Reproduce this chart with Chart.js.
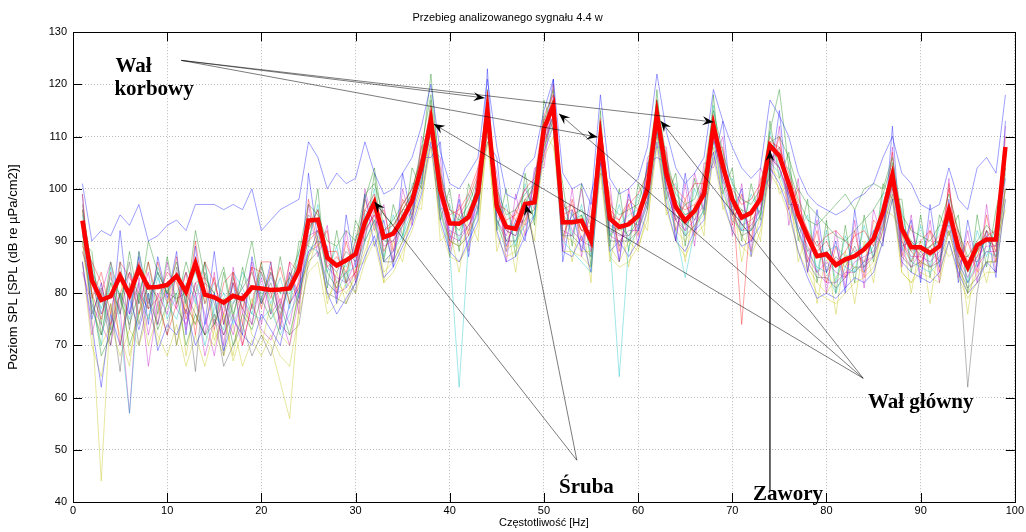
<!DOCTYPE html>
<html lang="pl">
<head>
<meta charset="utf-8">
<title>Przebieg analizowanego sygnału 4.4 w</title>
<script src="https://cdn.jsdelivr.net/npm/chart.js@4.4.1/dist/chart.umd.min.js"></script>
<style>
    html, body { margin: 0; padding: 0; background: #fff; }
    canvas { display: block; }
</style>
</head>
<body>
<canvas id="wykres" width="1026" height="532"></canvas>
<script>
// Częstotliwości [Hz]
const czestotliwosci = [1,2,3,4,5,6,7,8,9,10,11,12,13,14,15,16,17,18,19,20,
    21,22,23,24,25,26,27,28,29,30,31,32,33,34,35,36,37,38,39,40,
    41,42,43,44,45,46,47,48,49,50,51,52,53,54,55,56,57,58,59,60,
    61,62,63,64,65,66,67,68,69,70,71,72,73,74,75,76,77,78,79,80,
    81,82,83,84,85,86,87,88,89,90,91,92,93,94,95,96,97,98,99];

// średni poziom (gruba czerwona linia)
const srednia = [93.9,82.5,78.7,79.4,83.3,79.7,84.6,81.1,81.2,81.6,
    83.3,80.3,85.7,79.7,79.2,78.2,79.5,78.9,81.1,80.9,
    80.6,80.7,80.9,84.5,93.9,94.1,86.8,85.3,86.3,87.5,
    93.6,97.4,90.7,91.4,94.2,97.7,104.1,113.1,99.7,93.4,
    93.3,94.6,99.3,115.0,96.6,92.7,92.3,97.1,97.4,111.5,
    115.9,93.6,93.6,93.9,90.1,109.6,94.3,92.7,93.2,94.8,
    100.0,114.3,102.9,96.5,93.9,95.8,99.0,112.1,104.3,98.0,
    94.5,95.4,98.1,108.3,106.3,101.0,95.0,90.8,87.1,87.5,
    85.4,86.5,87.1,88.4,90.4,95.5,102.6,92.3,88.8,88.8,
    87.7,89.0,95.8,88.7,85.0,89.2,90.3,90.3,108.0];

// poszczególne pomiary (cienkie linie)
const pomiar01 = [101,90,92,91,95,93,97,90,91,93,94,92,97,97,97,96,97,96,100,92,
    94,96,97,98,109,106,100,103,101,102,109,103,99,100,103,106,112,120,107,101,
    100,103,106,121,108,99,98,104,106,115,121,103,100,101,97,118,102,99,100,102,
    108,122,111,104,101,103,106,119,113,108,104,102,104,117,114,110,103,99,97,96,
    95,96,98,99,101,106,110,103,101,97,96,97,104,98,96,104,106,103,118];
const pomiar02 = [96,85,72,82,76,88,78,90,84,80,86,78,92,83,80,85,76,82,90,79,
    84,80,83,88,97,95,90,89,92,90,99,101,95,93,96,99,108,118,103,96,
    94,97,102,117,100,95,96,99,101,113,119,97,95,96,93,112,97,95,96,97,
    104,117,106,99,97,98,103,115,107,101,98,97,100,111,119,104,98,94,93,95,
    97,99,96,100,101,100,106,95,92,91,90,93,99,92,87,90,93,91,105];
const pomiar03 = [99,80,75,84,70,81,86,77,79,84,82,76,90,78,83,74,82,77,85,84,
    79,85,78,82,92,96,85,87,84,90,96,99,88,92,97,100,106,115,101,95,
    96,99,104,116,99,94,95,100,102,114,118,96,97,92,93,113,96,94,97,99,
    103,116,104,100,98,101,101,114,103,100,97,98,101,110,107,102,96,92,88,90,
    86,88,91,92,89,97,104,90,86,90,92,89,100,91,85,87,92,88,106];
const pomiar04 = [92,78,70,85,74,57,80,75,83,78,75,82,79,70,77,80,74,79,76,75,
    77,72,76,80,89,88,82,80,84,85,90,94,86,88,91,96,102,111,96,88,
    62,90,96,112,94,88,90,93,95,108,113,90,88,86,84,106,90,64,89,92,
    97,111,99,92,83,92,96,109,100,94,92,92,95,105,103,98,92,88,85,84,
    80,85,84,86,89,93,101,89,86,85,84,86,94,86,82,86,88,87,104];
const pomiar05 = [88,82,76,80,77,57,83,72,80,76,84,73,82,76,68,78,72,80,74,83,
    76,79,74,83,91,92,85,83,82,86,92,95,89,90,95,97,103,112,98,92,
    91,93,97,113,95,92,91,95,99,110,114,92,91,100,88,107,92,91,91,93,
    98,113,101,95,92,94,97,110,102,98,93,94,96,107,104,99,93,89,84,86,
    84,83,86,87,88,94,100,90,87,87,86,88,94,87,83,87,89,89,106];
const pomiar06 = [90,75,44,78,72,66,80,70,76,82,70,78,74,80,71,76,67,73,79,72,
    70,63,56,78,87,90,79,82,80,83,88,93,84,86,90,94,100,110,95,90,
    89,92,95,111,93,89,89,94,96,108,112,91,90,88,88,104,89,86,90,88,
    96,110,98,92,90,93,95,108,99,95,91,88,95,104,102,97,91,85,82,80,
    83,86,85,84,86,92,100,84,82,86,85,83,92,85,80,84,86,86,100];
const pomiar07 = [97,84,80,70,86,73,88,78,84,80,79,80,65,84,78,72,78,81,84,78,
    82,76,82,86,95,93,86,84,88,86,94,98,90,90,93,98,104,114,99,93,
    93,94,98,115,96,92,91,97,98,111,116,93,94,94,90,110,93,92,93,95,
    100,114,103,96,93,95,99,112,104,97,94,95,98,108,106,101,95,90,87,87,
    85,86,87,88,90,95,102,91,88,89,87,89,95,88,62,80,90,89,100];
const pomiar08 = [86,74,62,76,70,79,73,80,69,74,72,77,70,74,80,69,75,72,70,76,
    73,70,78,81,88,90,80,76,79,82,87,91,83,85,89,93,99,109,94,88,
    86,90,94,123,92,86,87,91,95,107,112,88,87,91,84,105,88,90,87,90,
    96,109,97,90,88,92,94,107,98,92,89,90,93,104,101,96,88,83,79,80,
    79,81,83,82,84,90,98,86,84,83,82,84,90,84,80,82,86,84,98];
const pomiar09 = [93,80,68,72,80,70,76,82,73,78,80,70,76,72,74,79,70,76,73,79,
    75,78,72,80,87,92,84,81,86,88,98,104,92,94,97,100,106,122,101,94,
    92,96,100,116,98,93,92,97,101,112,117,95,93,95,89,108,91,93,91,94,
    99,116,105,98,95,96,100,113,106,98,96,95,99,109,110,106,100,97,95,93,
    91,90,92,94,96,99,105,93,90,88,89,90,96,89,84,88,92,90,103];
const pomiar10 = [89,86,82,74,80,84,76,86,78,72,78,84,72,86,82,76,84,70,78,86,
    86,74,86,84,90,92,88,88,82,84,92,95,92,93,96,99,105,116,102,96,
    95,98,103,114,97,96,94,98,100,113,117,95,96,92,91,111,95,94,98,96,
    101,115,104,97,96,97,100,113,105,99,74,96,97,109,108,103,97,92,89,91,
    92,90,88,86,91,96,103,92,88,86,89,91,97,92,86,88,91,92,104];
const pomiar11 = [95,83,77,83,79,84,81,77,85,80,83,80,84,78,82,80,78,84,81,80,
    83,80,80,85,93,94,87,86,85,89,95,97,91,92,95,98,104,114,100,94,
    94,95,101,115,98,93,93,98,97,110,116,94,94,95,91,111,94,93,95,96,
    101,115,103,97,95,96,99,112,104,98,95,95,99,108,106,101,95,91,87,88,
    89,87,88,89,92,96,101,92,89,90,88,89,96,89,85,88,90,90,107];
const pomiar12 = [84,78,74,70,80,76,82,66,78,80,77,74,80,68,75,72,76,70,78,73,
    71,76,70,79,88,89,82,80,81,84,91,96,86,88,93,96,102,111,97,91,
    90,93,96,112,94,91,96,100,96,109,113,98,92,90,89,106,91,90,92,92,
    97,112,100,94,92,103,96,110,101,95,92,93,96,106,104,98,92,87,84,82,
    82,84,84,86,87,93,101,88,85,88,85,87,93,86,82,85,88,88,102];
const pomiar13 = [86,70,64,74,68,73,70,76,72,68,74,66,72,66,73,68,74,66,71,68,
    72,68,66,76,84,86,76,78,82,80,86,90,82,84,88,92,98,108,93,87,
    86,89,93,109,91,87,88,92,94,106,110,88,88,87,85,103,87,85,86,89,
    94,108,96,90,87,91,93,106,97,92,89,87,92,103,100,95,88,84,80,79,
    78,80,82,83,85,90,98,84,82,84,83,82,90,83,79,82,84,84,98];
const pomiar14 = [90,77,72,78,65,82,70,79,74,82,70,80,76,72,76,66,70,74,68,72,
    68,74,72,74,86,88,80,79,78,82,90,94,86,86,90,95,101,112,96,90,
    89,91,96,112,94,90,90,95,96,109,114,91,91,89,87,108,90,90,90,92,
    98,111,100,94,91,93,96,110,102,96,91,92,95,106,104,99,92,86,83,83,
    81,83,85,85,87,92,99,87,85,86,85,86,92,85,81,83,86,86,100];
const pomiar15 = [99,75,82,73,92,76,87,74,87,79,88,72,89,74,88,74,82,72,87,78,
    86,73,84,79,103,90,89,78,95,85,99,89,94,85,103,94,106,106,109,90,
    98,87,101,109,106,89,94,90,103,109,121,86,96,88,99,106,96,86,99,92,
    105,106,105,90,103,92,101,105,113,95,100,87,100,102,115,97,97,84,96,84,
    90,80,96,84,92,89,112,88,94,82,97,85,98,82,94,85,92,83,113];
const pomiar16 = [90,88,74,86,79,74,80,86,76,87,78,86,80,86,74,84,75,85,77,86,
    76,87,78,90,89,100,81,92,82,94,90,103,86,97,91,104,100,117,94,100,
    88,101,96,119,92,100,87,103,93,117,111,101,89,101,85,115,89,100,88,101,
    96,119,98,103,89,102,95,118,99,104,90,101,94,113,102,107,90,98,82,94,
    80,93,82,95,86,101,98,98,84,95,83,95,91,95,80,95,85,96,104];
const pomiar17 = [96,79,84,76,86,83,80,77,86,78,87,75,82,83,73,82,84,74,85,77,
    85,78,84,80,98,89,92,80,90,83,98,93,96,88,98,95,108,110,104,89,
    97,91,103,112,101,88,96,93,101,106,120,90,98,90,95,105,99,88,97,91,
    104,110,107,92,98,91,103,107,108,93,99,90,102,104,110,96,100,86,92,82,
    89,83,92,83,94,92,107,87,93,85,92,84,101,85,90,84,95,86,110];
const pomiar18 = [91,86,76,82,80,75,88,79,84,75,80,84,78,86,76,73,84,81,76,84,
    78,83,77,88,90,97,84,89,81,91,92,100,87,95,90,101,101,115,96,97,
    90,99,95,116,93,97,89,101,94,114,113,98,91,97,87,113,91,97,90,99,
    97,117,100,101,91,100,96,116,101,102,92,99,95,111,104,104,92,95,84,92,
    82,91,84,93,87,99,100,96,86,93,85,93,93,92,82,92,87,93,102];
const pomiar19 = [86,72,80,86,76,84,78,84,74,86,77,84,80,72,84,70,85,76,86,74,
    84,77,86,76,97,87,93,79,92,82,100,92,97,86,100,93,110,108,106,88,
    99,88,104,110,103,86,99,91,104,104,118,88,100,87,97,103,101,86,100,89,
    106,108,108,90,101,89,105,104,110,91,101,88,104,100,112,93,102,84,94,80,
    92,81,94,81,96,90,108,85,95,83,94,82,102,83,92,82,97,84,112];
const pomiar20 = [88,80,70,74,84,68,76,80,70,78,84,68,78,72,70,76,68,80,72,70,
    78,72,70,82,85,91,78,84,78,85,86,96,82,90,86,97,96,113,90,92,
    84,95,90,113,88,94,84,98,90,111,108,96,86,95,82,110,86,94,85,95,
    92,113,95,98,86,97,91,113,96,99,86,95,90,107,99,101,86,92,78,88,
    76,88,78,90,82,96,95,92,80,90,78,90,87,89,76,89,82,90,96];
const pomiar21 = [92,76,81,72,78,86,74,82,79,72,85,78,74,82,80,68,83,77,74,85,
    80,75,83,78,92,96,88,82,84,80,96,94,92,86,96,96,105,111,102,87,
    95,92,100,112,99,90,93,94,99,108,114,91,95,92,92,107,96,89,94,93,
    102,111,104,94,97,94,100,109,106,95,96,92,99,105,108,99,96,88,90,84,
    87,85,89,85,91,93,104,89,90,87,89,86,97,87,87,86,91,87,107];

const pomiary = [pomiar01, pomiar02, pomiar03, pomiar04, pomiar05, pomiar06, pomiar07,
    pomiar08, pomiar09, pomiar10, pomiar11, pomiar12, pomiar13, pomiar14,
    pomiar15, pomiar16, pomiar17, pomiar18, pomiar19, pomiar20, pomiar21];
// kolejność kolorów jak w MATLAB-ie: b g r c m y k
const kolory = ['rgba(0,0,255,0.5)', 'rgba(0,128,0,0.5)', 'rgba(255,0,0,0.5)',
    'rgba(0,191,191,0.5)', 'rgba(191,0,191,0.5)', 'rgba(191,191,0,0.5)', 'rgba(64,64,64,0.5)'];

// osie
const zakresX = { min: 0, max: 100, krok: 10 };
const zakresY = { min: 40, max: 130, krok: 10 };

// opisy i strzałki (we współrzędnych danych)
const napisy = [
    { tekst: 'Wał', x: 4.5, y: 122.3 },
    { tekst: 'korbowy', x: 4.4, y: 117.9 },
    { tekst: 'Wał główny', x: 84.4, y: 58.0 },
    { tekst: 'Śruba', x: 51.6, y: 41.7 },
    { tekst: 'Zawory', x: 72.2, y: 40.3 }
];
const strzalki = [
    { od: [11.5, 124.6], do: [43.7, 117.4] },
    { od: [11.5, 124.6], do: [55.7, 109.9] },
    { od: [11.5, 124.6], do: [68.0, 112.8] },
    { od: [83.9, 63.7], do: [38.3, 112.4] },
    { od: [83.9, 63.7], do: [51.6, 114.4] },
    { od: [83.9, 63.7], do: [62.4, 113.0] },
    { od: [53.5, 48.0], do: [32.0, 97.5] },
    { od: [53.5, 48.0], do: [48.1, 97.0] },
    { od: [74.0, 42.3], do: [74.0, 107.4], gruba: true }
];

const datasets = pomiary.map(function (dane, i) {
    return {
        data: dane,
        borderColor: kolory[i % kolory.length],
        borderWidth: 0.75,
        pointRadius: 0,
        tension: 0,
        order: 2
    };
});
datasets.push({
    data: srednia,
    borderColor: '#ff0000',
    borderWidth: 4.5,
    pointRadius: 0,
    tension: 0,
    borderJoinStyle: 'miter',
    order: 0
});

function rysujStrzalke(ctx, x1, y1, x2, y2) {
    const kat = Math.atan2(y2 - y1, x2 - x1);
    ctx.beginPath();
    ctx.moveTo(x1, y1);
    ctx.lineTo(x2, y2);
    ctx.stroke();
    ctx.save();
    ctx.translate(x2, y2);
    ctx.rotate(kat);
    ctx.beginPath();
    ctx.moveTo(0, 0);
    ctx.lineTo(-11, -4.5);
    ctx.lineTo(-7, 0);
    ctx.lineTo(-11, 4.5);
    ctx.closePath();
    ctx.fill();
    ctx.restore();
}

const ramkaIOpisy = {
    id: 'ramkaIOpisy',
    afterDatasetsDraw(chart) {
        const ctx = chart.ctx;
        const a = chart.chartArea;
        const sx = chart.scales.x;
        const sy = chart.scales.y;
        ctx.save();
        // ramka osi
        ctx.strokeStyle = '#000';
        ctx.lineWidth = 1;
        ctx.strokeRect(Math.round(a.left) + 0.5, Math.round(a.top) + 0.5,
            Math.round(a.right - a.left), Math.round(a.bottom - a.top));
        // znaczniki do wewnątrz
        const dl = 9;
        ctx.beginPath();
        sx.ticks.forEach(function (t) {
            const px = Math.round(sx.getPixelForValue(t.value)) + 0.5;
            ctx.moveTo(px, a.bottom); ctx.lineTo(px, a.bottom - dl);
            ctx.moveTo(px, a.top); ctx.lineTo(px, a.top + dl);
        });
        sy.ticks.forEach(function (t) {
            const py = Math.round(sy.getPixelForValue(t.value)) + 0.5;
            ctx.moveTo(a.left, py); ctx.lineTo(a.left + dl, py);
            ctx.moveTo(a.right, py); ctx.lineTo(a.right - dl, py);
        });
        ctx.stroke();

        // strzałki
        ctx.fillStyle = '#000';
        strzalki.forEach(function (s) {
            ctx.strokeStyle = s.gruba ? '#000' : 'rgba(0,0,0,0.65)';
            ctx.lineWidth = s.gruba ? 1.2 : 0.8;
            rysujStrzalke(ctx,
                sx.getPixelForValue(s.od[0]), sy.getPixelForValue(s.od[1]),
                sx.getPixelForValue(s.do[0]), sy.getPixelForValue(s.do[1]));
        });

        // napisy
        ctx.font = 'bold 21px "Liberation Serif", "Times New Roman", serif';
        ctx.textAlign = 'left';
        ctx.textBaseline = 'alphabetic';
        napisy.forEach(function (n) {
            ctx.fillText(n.tekst, sx.getPixelForValue(n.x), sy.getPixelForValue(n.y));
        });
        ctx.restore();
    }
};

const czcionka = { family: '"Liberation Sans", Arial, sans-serif', size: 11 };

new Chart(document.getElementById('wykres'), {
    type: 'line',
    data: { labels: czestotliwosci, datasets: datasets },
    options: {
        responsive: false,
        animation: false,
        devicePixelRatio: 1,
        layout: { padding: { left: 0, right: 11, top: 0, bottom: 0 } },
        plugins: {
            legend: { display: false },
            tooltip: { enabled: false },
            title: {
                display: true,
                text: 'Przebieg analizowanego sygnału 4.4 w',
                color: '#000',
                font: { family: czcionka.family, size: 11, weight: 'normal' },
                padding: { top: 11, bottom: 8 }
            }
        },
        scales: {
            x: {
                type: 'linear',
                min: zakresX.min,
                max: zakresX.max,
                ticks: { stepSize: zakresX.krok, color: '#000', font: czcionka, padding: 2, maxRotation: 0 },
                grid: { color: 'rgba(0,0,0,0.28)', lineWidth: 1, drawTicks: false },
                border: { display: false, dash: [1, 2] },
                title: { display: true, text: 'Częstotliwość [Hz]', color: '#000', font: czcionka, padding: { top: 0, bottom: 2 } },
                afterFit(scale) { scale.height = 30; }
            },
            y: {
                min: zakresY.min,
                max: zakresY.max,
                ticks: { stepSize: zakresY.krok, color: '#000', font: czcionka, padding: 6 },
                grid: { color: 'rgba(0,0,0,0.28)', lineWidth: 1, drawTicks: false },
                border: { display: false, dash: [1, 2] },
                title: { display: true, text: 'Poziom SPL [SPL (dB re µPa/cm2)]', color: '#000',
                    font: { family: czcionka.family, size: 13 }, padding: { top: 6, bottom: 0 } },
                afterFit(scale) { scale.width = 73; }
            }
        }
    },
    plugins: [ramkaIOpisy]
});
</script>
</body>
</html>
